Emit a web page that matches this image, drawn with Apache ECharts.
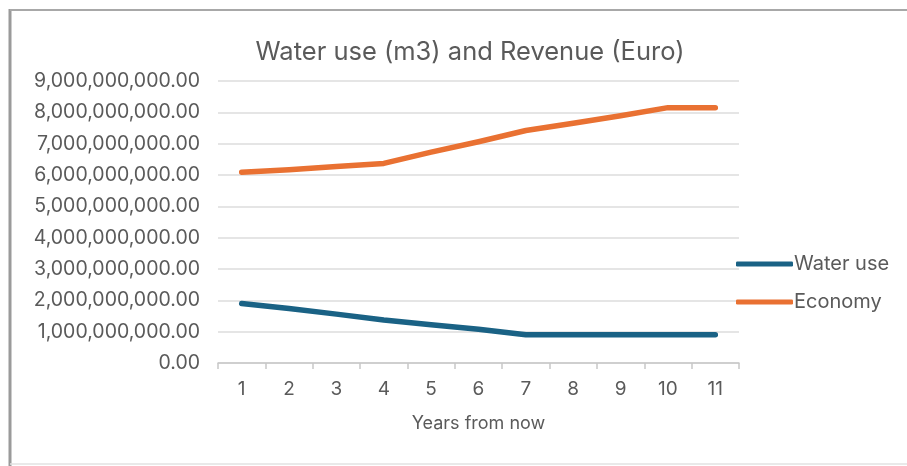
<!DOCTYPE html>
<html>
<head>
<meta charset="utf-8">
<script src="https://cdn.jsdelivr.net/npm/echarts@6/dist/echarts.min.js"></script>
<style>html,body{margin:0;padding:0;background:#fff;}#c{width:907px;height:466px;}</style>
</head>
<body>
<div id="c"></div>
<script>
var categories = ['1','2','3','4','5','6','7','8','9','10','11'];
var waterUse = [1.90e9, 1.74e9, 1.56e9, 1.37e9, 1.22e9, 1.08e9, 0.90e9, 0.90e9, 0.90e9, 0.90e9, 0.90e9];
var economy = [6.09e9, 6.17e9, 6.27e9, 6.37e9, 6.73e9, 7.06e9, 7.42e9, 7.65e9, 7.89e9, 8.15e9, 8.15e9];
var seriesNames = ['Water use', 'Economy'];
var titleText = 'Water use (m3) and Revenue (Euro)';
var xName = 'Years from now';

var FONT = 'Inter';
var TXT = '#5a5a5a';
var chart = echarts.init(document.getElementById('c'), null, {renderer: 'canvas'});
chart.setOption({
  animation: false,
  backgroundColor: '#fff',
  title: {
    text: titleText,
    left: 465,
    top: 34,
    textAlign: 'center',
    textStyle: {fontFamily: FONT, fontSize: 25.5, fontWeight: 'normal', color: TXT}
  },
  legend: {
    orient: 'vertical',
    left: 731,
    top: 249,
    icon: 'roundRect',
    itemWidth: 57,
    itemHeight: 5,
    itemGap: 18,
    textStyle: {fontFamily: FONT, fontSize: 20, color: TXT, padding: [0, 0, 0, -4]},
    data: seriesNames
  },
  grid: {left: 218, right: 168, top: 81, bottom: 103, containLabel: false},
  xAxis: {
    type: 'category',
    data: categories,
    boundaryGap: true,
    name: xName,
    nameLocation: 'middle',
    nameGap: 52,
    nameTextStyle: {fontFamily: FONT, fontSize: 18, color: TXT},
    axisLine: {lineStyle: {color: '#c8c8c8', width: 1.5}},
    axisTick: {show: true, length: 6, lineStyle: {color: '#c8c8c8', width: 1.5}},
    axisLabel: {fontFamily: FONT, fontSize: 19, color: TXT, margin: 17}
  },
  yAxis: {
    type: 'value',
    min: 0,
    max: 9e9,
    interval: 1e9,
    axisLine: {show: false},
    axisTick: {show: false},
    splitLine: {lineStyle: {color: '#dcdcdc', width: 1.5}},
    axisLabel: {
      fontFamily: FONT, fontSize: 19.5, color: TXT, margin: 18,
      formatter: function (v) { return v.toLocaleString('en-US', {minimumFractionDigits: 2, maximumFractionDigits: 2}); }
    }
  },
  graphic: [
    {type: 'line', shape: {x1: 10, y1: 9, x2: 10, y2: 466}, style: {stroke: '#9a9a9a', lineWidth: 3}, silent: true},
    {type: 'line', shape: {x1: 10, y1: 10, x2: 907, y2: 10}, style: {stroke: '#a8a8a8', lineWidth: 2}, silent: true},
    {type: 'line', shape: {x1: 10, y1: 464, x2: 907, y2: 464}, style: {stroke: '#e2e2e2', lineWidth: 1.5}, silent: true}
  ],
  series: [
    {name: seriesNames[0], type: 'line', data: waterUse, symbol: 'none', color: '#1a6285',
     lineStyle: {width: 5.5, color: '#1a6285', cap: 'round', join: 'round'}},
    {name: seriesNames[1], type: 'line', data: economy, symbol: 'none', color: '#E97132',
     lineStyle: {width: 5.5, color: '#E97132', cap: 'round', join: 'round'}}
  ]
});
</script>
</body>
</html>
